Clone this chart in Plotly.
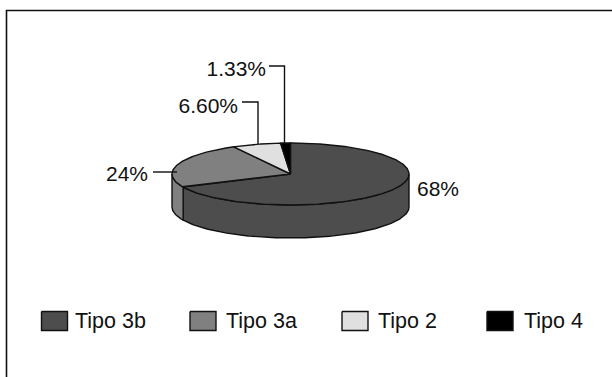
import numpy as np
import plotly.graph_objects as go

categories = ["Tipo 3b", "Tipo 3a", "Tipo 2", "Tipo 4"]
values = [68, 24, 6.60, 1.33]
value_labels = ["68%", "24%", "6.60%", "1.33%"]
slice_colors = ["#4d4d4d", "#808080", "#e0e0e0", "#000000"]

WIDTH, HEIGHT = 612, 377
CX, CY, RX, RY, DEPTH = 290.5, 174, 118.5, 31, 33
OUTLINE = "#111111"
LINE_W = 1.4
FONT = dict(family="Liberation Sans, Arial, sans-serif", size=21, color="#111111")
LEGEND_FONT = dict(FONT, size=21.5)

# Slice boundaries, clockwise from twelve o'clock
shares = np.array(values) / sum(values)
edges = np.concatenate([[0], np.cumsum(shares)]) * 2 * np.pi


def rim(a0, a1, drop=0.0):
    t = np.linspace(a0, a1, max(int((a1 - a0) * 80), 2))
    return CX + RX * np.sin(t), CY - RY * np.cos(t) + drop


fig = go.Figure()


def poly(xs, ys, color):
    fig.add_trace(go.Scatter(
        x=xs, y=ys, mode="lines", fill="toself", fillcolor=color,
        line=dict(color=OUTLINE, width=LINE_W), hoverinfo="skip", showlegend=False,
    ))


# Side wall: only the part of the rim facing the viewer (90 to 270 degrees)
for i in range(len(values)):
    a0, a1 = max(edges[i], np.pi / 2), min(edges[i + 1], 3 * np.pi / 2)
    if a1 <= a0:
        continue
    x_top, y_top = rim(a0, a1)
    x_low, y_low = rim(a0, a1, DEPTH)
    poly(np.r_[x_top, x_low[::-1], x_top[0]], np.r_[y_top, y_low[::-1], y_top[0]], slice_colors[i])

# Top face
for i in range(len(values)):
    x_arc, y_arc = rim(edges[i], edges[i + 1])
    poly(np.r_[CX, x_arc, CX], np.r_[CY, y_arc, CY], slice_colors[i])

# Leader lines from Tipo 3a and the small slices to their labels
leader_paths = [
    ([153, 177], [172, 172]),
    ([242, 258, 258], [102, 102, 144]),
    ([269, 284.5, 284.5], [66, 66, 144]),
]
for xs, ys in leader_paths:
    fig.add_trace(go.Scatter(x=xs, y=ys, mode="lines", line=dict(color=OUTLINE, width=LINE_W),
                             hoverinfo="skip", showlegend=False))

# Percentage labels
label_x = [417, 148, 238, 266]
label_y = [191, 175.5, 108, 70.5]
label_pos = ["middle right", "middle left", "middle left", "middle left"]
fig.add_trace(go.Scatter(
    x=label_x, y=label_y, mode="text", text=value_labels, textposition=label_pos,
    textfont=FONT, hoverinfo="skip", showlegend=False,
))

# Legend row: wide swatches followed by the category names
swatch_x = [54.5, 203, 355, 500]
text_x = [75, 226, 378, 524]
legend_y = 321
legend_text_y = 323
SW_HALF_W, SW_HALF_H = 13, 9.5
for sx, color in zip(swatch_x, slice_colors):
    poly([sx - SW_HALF_W, sx + SW_HALF_W, sx + SW_HALF_W, sx - SW_HALF_W, sx - SW_HALF_W],
         [legend_y - SW_HALF_H, legend_y - SW_HALF_H, legend_y + SW_HALF_H, legend_y + SW_HALF_H, legend_y - SW_HALF_H],
         color)
fig.add_trace(go.Scatter(
    x=text_x, y=[legend_text_y] * 4, mode="text", text=categories, textposition="middle right",
    textfont=LEGEND_FONT, hoverinfo="skip", showlegend=False,
))

fig.update_layout(
    width=WIDTH, height=HEIGHT, margin=dict(l=0, r=0, t=0, b=0),
    paper_bgcolor="#ffffff", plot_bgcolor="#ffffff", showlegend=False,
    xaxis=dict(range=[0, WIDTH], visible=False, fixedrange=True),
    yaxis=dict(range=[HEIGHT, 0], visible=False, fixedrange=True),
    # Frame runs along the top and left edges only
    shapes=[dict(type="path", xref="x", yref="y", path="M 6.5 377 L 6.5 10.5 L 612 10.5",
                 line=dict(color=OUTLINE, width=1.6), layer="below")],
)

fig.write_html("out.html", config=dict(displayModeBar=False))
